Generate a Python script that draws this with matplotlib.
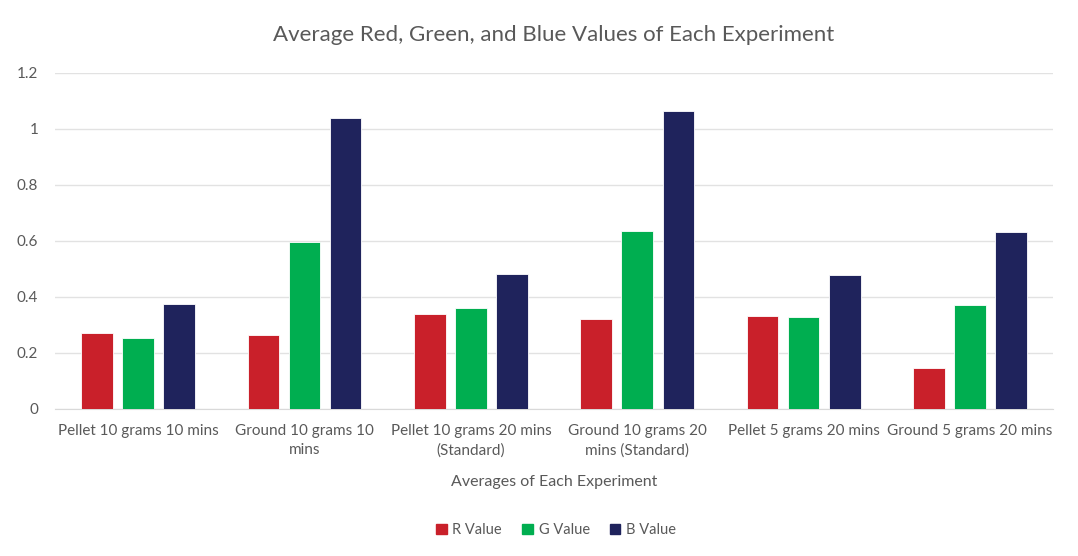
import numpy as np
import matplotlib.pyplot as plt
from matplotlib.patches import Patch

plt.rcParams['font.family'] = ['Lato', 'DejaVu Sans']

categories = ['Pellet 10 grams 10 mins', 'Ground 10 grams 10\nmins',
              'Pellet 10 grams 20 mins\n(Standard)', 'Ground 10 grams 20\nmins (Standard)',
              'Pellet 5 grams 20 mins', 'Ground 5 grams 20 mins']
r_values = [0.271, 0.263, 0.340, 0.319, 0.331, 0.144]
g_values = [0.251, 0.595, 0.361, 0.636, 0.326, 0.369]
b_values = [0.374, 1.038, 0.481, 1.065, 0.476, 0.633]
series_names = ['R Value', 'G Value', 'B Value']
colors = ['#C9202A', '#00AE50', '#1F235C']

text_color = '#595959'

fig = plt.figure(figsize=(10.78, 5.56), dpi=100)
ax = fig.add_axes([0.051, 0.265, 0.926, 0.604])

x = np.arange(len(categories))
step = 0.247
width = 0.19
for i, (vals, col) in enumerate(zip([r_values, g_values, b_values], colors)):
    ax.bar(x + (i - 1) * step, vals, width, color=col, edgecolor='white',
           linewidth=0.6, zorder=3)

ax.set_xlim(-0.5, len(categories) - 0.5)
ax.set_ylim(0, 1.2)
ax.set_yticks([0, 0.2, 0.4, 0.6, 0.8, 1.0, 1.2])
ax.set_yticklabels(['0', '0.2', '0.4', '0.6', '0.8', '1', '1.2'])
ax.yaxis.grid(True, color='#E2E2E2', linewidth=1, zorder=0)
ax.set_axisbelow(True)
for s in ['top', 'right', 'left']:
    ax.spines[s].set_visible(False)
ax.spines['bottom'].set_color('#D9D9D9')
ax.tick_params(axis='both', length=0, colors=text_color, labelsize=11)
ax.tick_params(axis='y', pad=12)
ax.set_xticks(x)
ax.set_xticklabels(categories, linespacing=1.45)
ax.tick_params(axis='x', pad=11)

ax.set_title('Average Red, Green, and Blue Values of Each Experiment',
             fontsize=16, color=text_color, pad=23)
ax.set_xlabel('Averages of Each Experiment', fontsize=11.5, color=text_color, labelpad=13)

handles = [Patch(color=c, label=n) for c, n in zip(colors, series_names)]
fig.legend(handles=handles, loc='center', bbox_to_anchor=(0.516, 0.047), ncol=3,
           frameon=False, fontsize=10.5, labelcolor=text_color,
           handlelength=0.7, handleheight=0.7, handletextpad=0.4, columnspacing=1.4)

fig.savefig('out.png', dpi=100)
